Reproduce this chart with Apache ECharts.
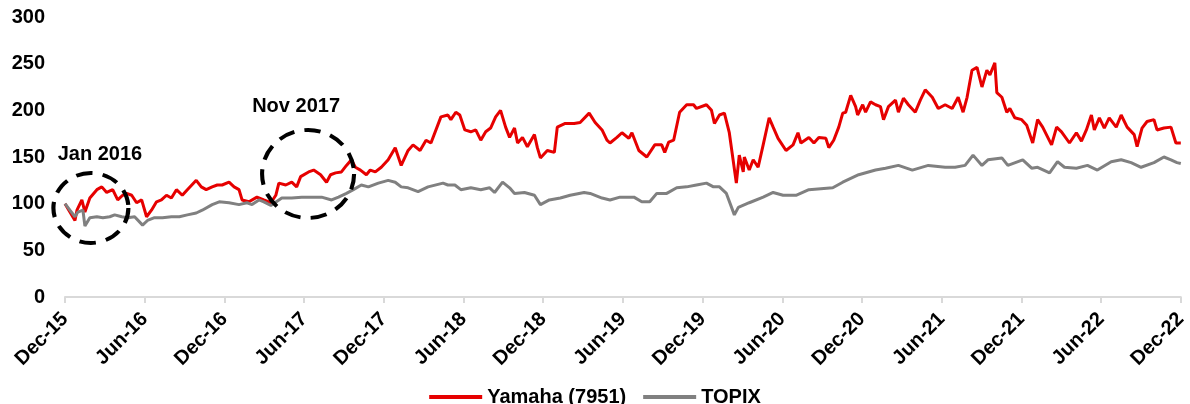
<!DOCTYPE html>
<html>
<head>
<meta charset="utf-8">
<script src="https://cdn.jsdelivr.net/npm/echarts@6/dist/echarts.min.js"></script>
<style>
html,body{margin:0;padding:0;background:#fff;}
#c{width:1190px;height:404px;}
</style>
</head>
<body>
<div id="c"></div>
<script>
// x values are months elapsed since Dec-15
const tickLabels = ["Dec-15","Jun-16","Dec-16","Jun-17","Dec-17","Jun-18","Dec-18","Jun-19","Dec-19","Jun-20","Dec-20","Jun-21","Dec-21","Jun-22","Dec-22"];

const yamahaMonths = [0.00,0.37,0.75,0.90,1.27,1.50,1.87,2.40,2.77,3.14,3.59,3.97,4.34,4.64,5.02,5.39,5.77,6.14,6.51,6.89,7.26,7.64,8.01,8.39,8.83,9.21,9.88,10.26,10.63,11.08,11.46,11.83,12.35,12.73,13.10,13.33,13.85,14.45,14.97,15.50,15.87,16.10,16.62,17.07,17.44,17.74,18.34,18.72,19.24,19.69,19.99,20.37,20.81,21.19,21.56,21.86,22.24,22.69,22.98,23.36,23.81,24.33,24.86,25.31,25.83,26.20,26.73,27.18,27.55,28.30,28.82,29.05,29.42,29.72,30.10,30.55,30.92,31.30,31.67,32.04,32.42,32.79,33.17,33.47,33.84,34.07,34.44,34.81,35.34,35.56,35.79,36.31,36.84,37.06,37.66,38.33,38.78,39.46,39.91,40.43,40.80,41.03,41.55,41.93,42.45,42.68,43.20,43.80,44.40,44.92,45.15,45.45,45.82,46.27,46.80,47.32,47.54,48.29,48.67,48.89,49.27,49.64,50.01,50.54,50.76,51.06,51.14,51.51,51.81,52.18,52.56,53.01,53.31,53.68,54.28,54.81,55.18,55.40,56.00,56.38,56.75,57.28,57.50,57.87,58.25,58.55,58.77,59.15,59.52,59.67,60.05,60.27,60.64,61.02,61.39,61.62,61.99,62.52,62.74,63.12,63.49,64.01,64.39,64.76,65.29,65.74,66.26,66.79,67.24,67.61,67.91,68.28,68.66,69.03,69.40,69.63,70.00,70.15,70.53,70.90,71.13,71.50,72.02,72.40,72.85,73.22,73.60,74.27,74.65,75.02,75.62,76.14,76.52,76.89,77.27,77.49,77.87,78.24,78.61,79.14,79.51,79.96,80.49,80.71,81.08,81.46,81.98,82.21,82.73,83.26,83.63,84.00];
const yamahaValues = [100,91,82,93,104,91,106,115,118,112,115,104,109,111,109,101,104,86,93,102,104,109,106,115,109,115,125,118,115,118,120,120,123,118,115,104,102,107,104,101,109,122,120,123,118,129,134,136,131,123,131,133,134,141,147,139,136,131,136,134,139,147,160,141,157,163,157,168,165,193,195,190,198,195,179,177,179,168,177,181,193,200,182,171,181,165,171,161,174,160,149,157,155,182,186,186,187,197,187,179,168,165,171,176,170,176,157,150,163,163,155,166,168,198,206,206,202,206,200,186,195,197,176,122,152,134,150,136,147,139,163,192,182,170,157,163,176,165,171,165,171,170,160,168,182,197,198,216,204,195,206,198,209,206,204,190,204,211,198,213,206,198,211,222,214,202,206,202,214,198,214,243,246,225,243,238,251,219,214,198,202,192,190,184,165,190,182,163,182,177,165,176,167,179,195,179,192,181,192,182,195,182,174,161,181,188,190,179,181,182,165,165];

const topixMonths = [0.00,0.37,0.75,0.97,1.35,1.50,1.87,2.40,2.85,3.37,3.74,4.27,4.72,5.24,5.84,6.21,6.74,7.34,8.01,8.61,9.21,9.88,10.33,11.08,11.61,12.35,13.10,13.70,14.08,14.60,14.97,15.50,16.32,17.07,17.82,18.57,19.32,20.07,20.59,21.19,21.71,22.31,22.84,23.59,24.33,24.86,25.31,25.83,26.58,27.33,28.46,28.82,29.35,29.80,30.55,31.30,31.97,32.34,32.94,33.47,33.84,34.59,35.34,35.79,36.46,37.29,38.03,39.08,39.53,40.43,41.03,41.78,42.83,43.42,44.02,44.55,45.30,46.05,46.80,47.54,48.29,48.82,49.27,49.79,50.39,50.69,51.51,52.56,53.31,54.06,55.03,56.00,57.80,58.55,59.75,61.02,61.77,62.74,63.79,64.99,66.26,67.01,67.76,68.36,69.03,69.48,70.53,70.98,72.10,72.77,73.22,74.12,74.72,75.24,76.14,76.97,77.72,78.76,79.51,80.26,81.01,81.98,82.73,83.26,83.71,84.00];
const topixValues = [100,93,86,91,93,76,85,86,85,86,88,86,85,86,77,82,85,85,86,86,88,90,93,99,102,101,99,101,99,104,102,98,106,106,107,107,107,104,107,111,115,120,118,122,125,123,118,117,113,118,122,120,120,115,117,115,117,112,123,117,111,112,109,99,104,106,109,112,111,106,104,107,107,102,102,111,111,117,118,120,122,118,118,111,88,96,101,107,112,109,109,115,117,123,131,136,138,141,136,141,139,139,141,152,141,147,149,141,147,138,139,133,145,139,138,141,136,145,147,144,139,144,150,147,144,143];

const seriesNames = ["Yamaha (7951)", "TOPIX"];
const annotationLabels = ["Jan 2016", "Nov 2017"];
const annotationMonths = [1.95, 18.3];
const annotationValues = [95.4, 131.8];

function pairs(xs, ys){ return xs.map((x,i)=>[x, ys[i]]); }

const FONT = "'Liberation Sans', Arial, sans-serif";
const chart = echarts.init(document.getElementById('c'), null, {renderer:'canvas'});

const circleSizes = [[75,70],[92,88]];
const labelOffsets = [[9,-53],[-12,-68]];

chart.setOption({
  animation:false,
  backgroundColor:'#fff',
  grid:{left:65, right:3, top:17, bottom:107, containLabel:false},
  legend:{
    data:seriesNames,
    top:382,
    left:'center',
    icon:'rect',
    itemWidth:53,
    itemHeight:4,
    itemGap:17,
    textStyle:{fontFamily:FONT, fontWeight:'bold', fontSize:20, color:'#000'}
  },
  xAxis:{
    type:'value', min:0, max:84, interval:6,
    axisLine:{show:true, lineStyle:{color:'#d9d9d9', width:2}},
    axisTick:{show:true, length:6, lineStyle:{color:'#d9d9d9', width:2}},
    splitLine:{show:false},
    axisLabel:{
      rotate:45, margin:19,
      fontFamily:FONT, fontWeight:'bold', fontSize:20, color:'#000',
      formatter:(v)=>tickLabels[Math.round(v/6)] || ''
    }
  },
  yAxis:{
    type:'value', min:0, max:300, interval:50,
    axisLine:{show:false}, axisTick:{show:false}, splitLine:{show:false},
    axisLabel:{fontFamily:FONT, fontWeight:'bold', fontSize:20, color:'#000', margin:20}
  },
  series:[
    {
      name:seriesNames[0], type:'line', data:pairs(yamahaMonths, yamahaValues),
      showSymbol:false, symbol:'none', lineStyle:{color:'#e60000', width:3}, itemStyle:{color:'#e60000'},
      z:2,
      markPoint:{
        silent:true,
        data: annotationLabels.map((t,i)=>({
          coord:[annotationMonths[i], annotationValues[i]],
          symbol:'circle',
          symbolSize:circleSizes[i],
          itemStyle:{color:'rgba(0,0,0,0)', borderColor:'#000', borderWidth:4, borderType:[16,10]},
          label:{show:true, position:'inside', offset:labelOffsets[i], formatter:t,
                 fontFamily:FONT, fontWeight:'bold', fontSize:20, color:'#000'}
        }))
      }
    },
    {
      name:seriesNames[1], type:'line', data:pairs(topixMonths, topixValues),
      showSymbol:false, symbol:'none', lineStyle:{color:'#808080', width:3}, itemStyle:{color:'#808080'},
      z:3
    }
  ]
});
</script>
</body>
</html>
